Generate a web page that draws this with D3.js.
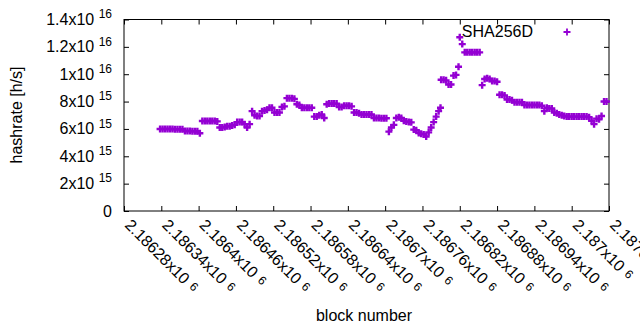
<!DOCTYPE html>
<html>
<head>
<meta charset="utf-8">
<script src="https://cdn.jsdelivr.net/npm/d3@7"></script>
<style>
  body { margin: 0; background: #fff; }
  svg text { font-family: "Liberation Sans", Arial, sans-serif; fill: #000; }
</style>
</head>
<body>
<svg id="chart" width="640" height="330"></svg>
<script>
// block heights of the plotted samples
const blocks = [
  2186338, 2186342, 2186346, 2186350, 2186354, 2186358, 2186362, 2186366, 2186370, 2186374,
  2186378, 2186382, 2186386, 2186390, 2186394, 2186398, 2186402, 2186406, 2186410, 2186414,
  2186418, 2186422, 2186426, 2186430, 2186434, 2186438, 2186442, 2186446, 2186450, 2186454,
  2186458, 2186462, 2186466, 2186470, 2186474, 2186478, 2186482, 2186486, 2186490, 2186494,
  2186498, 2186502, 2186506, 2186510, 2186514, 2186518, 2186522, 2186526, 2186530, 2186534,
  2186538, 2186542, 2186546, 2186550, 2186554, 2186558, 2186562, 2186566, 2186570, 2186574,
  2186578, 2186582, 2186586, 2186590, 2186594, 2186598, 2186602, 2186606, 2186610, 2186614,
  2186618, 2186622, 2186626, 2186630, 2186634, 2186638, 2186642, 2186646, 2186650, 2186654,
  2186658, 2186662, 2186666, 2186670, 2186674, 2186678, 2186682, 2186686, 2186690, 2186694,
  2186698, 2186702, 2186706, 2186710, 2186714, 2186718, 2186722, 2186726, 2186730, 2186734,
  2186738, 2186742, 2186746, 2186750, 2186754, 2186758, 2186762, 2186766, 2186770, 2186774,
  2186778, 2186782, 2186786, 2186789, 2186790, 2186794, 2186798, 2186802, 2186806, 2186810,
  2186814, 2186818, 2186820, 2186824, 2186828, 2186832, 2186836, 2186840, 2186844, 2186848,
  2186852, 2186856, 2186860, 2186864, 2186868, 2186872, 2186876, 2186880, 2186884, 2186888,
  2186892, 2186896, 2186900, 2186904, 2186908, 2186912, 2186916, 2186920, 2186924, 2186928,
  2186932, 2186936, 2186940, 2186944, 2186948, 2186952, 2186956, 2186960, 2186964, 2186968,
  2186972, 2186976, 2186980, 2186984, 2186988, 2186992, 2186996, 2187000, 2187004, 2187008,
  2187012, 2187016, 2187020, 2187024, 2187028, 2187032, 2187036, 2187040, 2187044, 2187048,
  2187052, 2187056
];

// SHA256D hashrate, in units of 10^15 h/s
const hashrateE15 = [
  6.0, 6.0, 6.0, 6.0, 6.0, 6.0, 5.98, 5.98, 5.98, 5.98,
  5.85, 5.85, 5.85, 5.83, 5.83, 5.83, 5.68, 6.58, 6.58, 6.58,
  6.58, 6.58, 6.58, 6.55, 6.1, 6.1, 6.15, 6.2, 6.2, 6.25,
  6.3, 6.5, 6.5, 6.5, 6.35, 6.1, 6.35, 7.3, 7.0, 6.95,
  6.95, 7.3, 7.35, 7.4, 7.55, 7.55, 7.2, 7.2, 7.2, 7.6,
  7.65, 8.25, 8.25, 8.25, 8.2, 7.8, 7.75, 7.55, 7.55, 7.55,
  7.55, 7.55, 6.9, 6.9, 7.0, 7.05, 6.8, 7.8, 7.85, 7.85,
  7.85, 7.85, 7.6, 7.6, 7.7, 7.7, 7.7, 7.65, 7.2, 7.2,
  7.15, 7.05, 7.05, 7.05, 7.05, 7.05, 6.8, 6.8, 6.8, 6.78,
  6.78, 6.78, 5.8, 6.1, 6.3, 6.8, 6.85, 6.8, 6.6, 6.55,
  6.5, 6.48, 5.95, 5.9, 5.7, 5.65, 5.6, 5.45, 5.75, 6.1,
  6.5, 6.9, 7.3, 7.55, 9.6, 9.6, 9.55, 9.25, 9.25, 9.9,
  9.95, 10.55, 12.7, 12.2, 11.6, 11.6, 11.6, 11.6, 11.6, 11.6,
  11.6, 9.2, 9.65, 9.7, 9.65, 9.5, 9.5, 9.45, 8.5, 8.5,
  8.45, 8.15, 8.15, 8.1, 7.95, 7.95, 7.95, 7.95, 7.75, 7.75,
  7.75, 7.75, 7.75, 7.75, 7.75, 7.7, 7.3, 7.55, 7.5, 7.5,
  7.2, 7.15, 7.05, 7.0, 6.95, 6.9, 6.9, 6.9, 6.9, 6.9,
  6.9, 6.9, 6.9, 6.9, 6.85, 6.6, 6.35, 6.75, 6.7, 6.95,
  8.0, 8.0
];

const xTicks = [2186280, 2186340, 2186400, 2186460, 2186520, 2186580, 2186640,
                2186700, 2186760, 2186820, 2186880, 2186940, 2187000, 2187060];
const yTicks = [0, 2e15, 4e15, 6e15, 8e15, 1e16, 1.2e16, 1.4e16];
const seriesName = "SHA256D";

const margin = { left: 124, right: 609, top: 19.5, bottom: 211 };
const purple = "#9400d3";

const svg = d3.select("#chart");

const x = d3.scaleLinear().domain([2186280, 2187060]).range([margin.left, margin.right]);
const y = d3.scaleLinear().domain([0, 1.4e16]).range([margin.bottom, margin.top]);

// gnuplot-style "mantissa x10^exp" split
function splitSci(v) {
    if (v === 0) return { m: "0", e: null };
    const e = Math.floor(Math.log10(v) + 1e-9);
    const m = +(v / Math.pow(10, e)).toPrecision(6);
    return { m: String(m), e: String(e) };
}

// tick marks (inward, mirrored on all four sides)
const tick = 5;
function styleAxis(g) {
    g.select(".domain").remove();
    g.selectAll(".tick line").attr("stroke", "#000").attr("stroke-width", 1);
    g.selectAll(".tick text").remove();
}
svg.append("g").attr("transform", `translate(0,${margin.bottom})`)
    .call(d3.axisBottom(x).tickValues(xTicks).tickSize(-tick)).call(styleAxis);
svg.append("g").attr("transform", `translate(0,${margin.top})`)
    .call(d3.axisTop(x).tickValues(xTicks).tickSize(-tick)).call(styleAxis);
svg.append("g").attr("transform", `translate(${margin.left},0)`)
    .call(d3.axisLeft(y).tickValues(yTicks).tickSize(-tick)).call(styleAxis);
svg.append("g").attr("transform", `translate(${margin.right},0)`)
    .call(d3.axisRight(y).tickValues(yTicks).tickSize(-tick)).call(styleAxis);

// border
svg.append("rect")
    .attr("x", margin.left).attr("y", margin.top)
    .attr("width", margin.right - margin.left).attr("height", margin.bottom - margin.top)
    .attr("fill", "none").attr("stroke", "#000").attr("stroke-width", 1);

// y tick labels
const yLab = svg.append("g").selectAll("text").data(yTicks).join("text")
    .attr("x", 112).attr("y", d => y(d) + 5.5)
    .attr("text-anchor", "end").attr("font-size", 16);
yLab.each(function (d) {
    const s = splitSci(d), t = d3.select(this);
    if (s.e === null) { t.text(s.m); return; }
    t.append("tspan").text(s.m + "x10 ");
    t.append("tspan").attr("font-size", 12).attr("dy", -6.7).text(s.e);
});

// x tick labels, rotated
const xLab = svg.append("g").selectAll("text").data(xTicks).join("text")
    .attr("transform", d => `translate(${x(d)},226) rotate(45)`)
    .attr("font-size", 16);
xLab.each(function (d) {
    const s = splitSci(d), t = d3.select(this);
    t.append("tspan").text(s.m + "x10 ");
    t.append("tspan").attr("font-size", 12).attr("dx", 1).attr("dy", -2.5).text(s.e);
});

// axis titles
svg.append("text").attr("x", 364).attr("y", 321)
    .attr("text-anchor", "middle").attr("font-size", 16).text("block number");
svg.append("text").attr("transform", "translate(22,115) rotate(-90)")
    .attr("text-anchor", "middle").attr("font-size", 16).text("hashrate [h/s]");

// points
const plus = "M-3.5,0H3.5M0,-3.5V3.5";
const data = d3.zip(blocks, hashrateE15);
svg.append("g").selectAll("path").data(data).join("path")
    .attr("d", plus)
    .attr("transform", d => `translate(${x(d[0])},${y(d[1] * 1e15)})`)
    .attr("stroke", purple).attr("stroke-width", 2.4).attr("fill", "none");

// legend
svg.append("text").attr("x", 533).attr("y", 37)
    .attr("text-anchor", "end").attr("font-size", 16).text(seriesName);
svg.append("path").attr("d", plus)
    .attr("transform", "translate(567,32)")
    .attr("stroke", purple).attr("stroke-width", 1.8).attr("fill", "none");
</script>
</body>
</html>
